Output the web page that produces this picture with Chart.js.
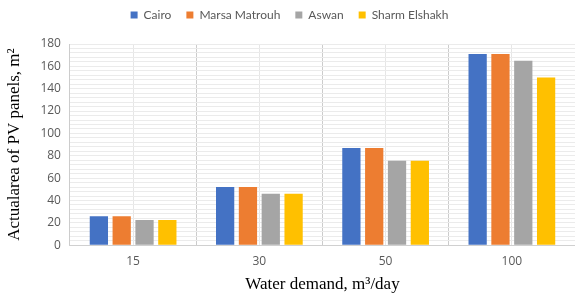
<!DOCTYPE html>
<html><head><meta charset="utf-8">
<script src="https://cdn.jsdelivr.net/npm/chart.js@4"></script>
<style>html,body{margin:0;padding:0;background:#fff}#wrap{width:575px;height:297px;position:relative}</style>
</head><body><div id="wrap"><canvas id="c" width="575" height="297"></canvas></div>
<script>
const categories = ['15', '30', '50', '100'];
const seriesNames = ['Cairo', 'Marsa Matrouh', 'Aswan', 'Sharm Elshakh'];
const cairo = [26, 52, 87, 171];
const marsaMatrouh = [26, 52, 87, 171];
const aswan = [22.5, 46, 75.5, 165];
const sharmElshakh = [22.5, 46, 75.5, 150];
const colors = ['#4472C4', '#ED7D31', '#A5A5A5', '#FFC000'];
const yTicks = [0, 20, 40, 60, 80, 100, 120, 140, 160, 180];

const values = [cairo, marsaMatrouh, aswan, sharmElshakh];
const tickFont = {family: "'Open Sans', 'Liberation Sans', sans-serif", size: 12};
const serif = {family: "'Liberation Serif', 'DejaVu Serif', serif", size: 17};

const legendMargin = {
  id: 'legendMargin',
  beforeInit(chart) {
    const fit = chart.legend.fit;
    chart.legend.fit = function () { fit.bind(this)(); this.height += 13; };
  }
};

new Chart(document.getElementById('c'), {
  type: 'bar',
  data: {
    labels: categories,
    datasets: seriesNames.map((n, i) => ({
      label: n, data: values[i], backgroundColor: colors[i],
      barPercentage: 0.8, categoryPercentage: 0.723, xAxisID: 'x', yAxisID: 'y'
    }))
  },
  plugins: [legendMargin],
  options: {
    responsive: false, animation: false,
    layout: {padding: {left: 4, right: 0, top: -6, bottom: 2}},
    plugins: {
      legend: {
        position: 'top',
        labels: {boxWidth: 7, boxHeight: 7, padding: 15, color: '#595959',
          font: {family: "'Lato', 'Liberation Sans', sans-serif", size: 12}}
      },
      tooltip: {enabled: false}
    },
    scales: {
      x: {
        type: 'category', offset: true,
        grid: {offset: true, color: '#CCCCCC', drawTicks: false},
        border: {color: '#D0D0D0'},
        ticks: {color: '#595959', font: tickFont, padding: 9},
        title: {display: true, text: 'Water demand, m³/day', color: '#000', font: serif, padding: {top: 0, bottom: 0}},
        afterFit: ax => { ax.height -= 3; }
      },
      x2: {
        type: 'category', labels: categories, offset: true, display: true, position: 'bottom',
        grid: {offset: false, color: '#E6E6E6', drawTicks: false},
        border: {display: false},
        ticks: {display: false}
      },
      y: {
        min: 0, max: 180,
        afterBuildTicks: ax => { ax.ticks = yTicks.map(v => ({value: v})); },
        grid: {color: '#D9D9D9', drawTicks: false},
        border: {display: false},
        ticks: {color: '#595959', font: tickFont, padding: 9},
        title: {display: true, text: 'Actualarea of PV panels, m²', color: '#000', font: serif, padding: {top: 0, bottom: 6}},
        afterFit: ax => { ax.width += 1; }
      },
      y2: {
        min: 0, max: 180, position: 'left', display: true,
        ticks: {display: false, stepSize: 4},
        grid: {color: '#EBEBEB', drawTicks: false},
        border: {display: false}
      }
    }
  }
});
</script></body></html>
